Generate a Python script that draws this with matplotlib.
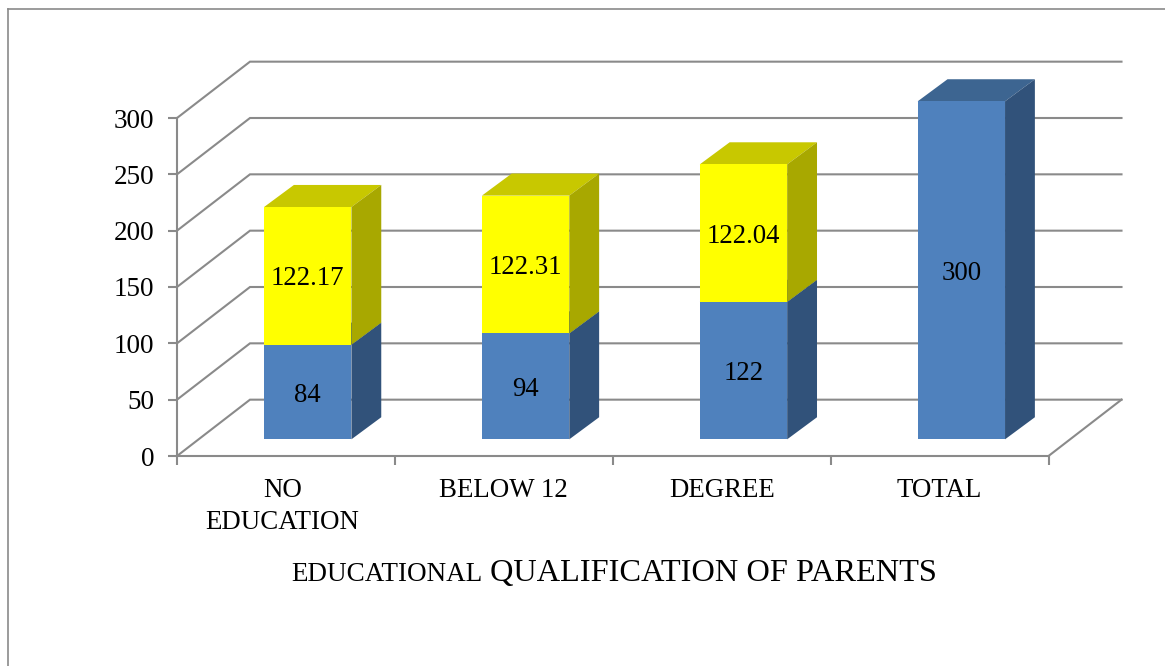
import matplotlib
matplotlib.use("Agg")
import matplotlib.pyplot as plt
from matplotlib.lines import Line2D
from matplotlib.patches import Polygon
from matplotlib.transforms import ScaledTranslation

categories = ["NO\nEDUCATION", "BELOW 12", "DEGREE", "TOTAL"]
blue_values = [84, 94, 122, 300]
yellow_values = [122.17, 122.31, 122.04, 0]
blue_labels = ["84", "94", "122", "300"]
yellow_labels = ["122.17", "122.31", "122.04", ""]
y_ticks = [0, 50, 100, 150, 200, 250, 300]

W, H = 1165, 666
GRAY = "#8a8a8a"
BLUE = ("#4f81bd", "#3d6591", "#31527a")
YELLOW = ("#ffff00", "#c8c800", "#a8a800")

# fake 3d geometry, all in data units
WALL_DX, WALL_DY = 0.335, 50
BAR_DX, BAR_DY = 0.137, 19.6
BAR_W = 0.401
BAR_BASE = 14.8
BAR_SHIFT = 0.6

plt.rcParams["font.family"] = ["Liberation Serif", "DejaVu Serif"]

fig = plt.figure(figsize=(W / 100, H / 100), dpi=100)
ax = fig.add_axes([177 / W, 1 - 456 / H, 871.5 / W, 338 / H])
ax.set_xlim(0, 4)
ax.set_ylim(0, 300)


def box(x, bottom, height, colors):
    left = x - BAR_W / 2
    right = x + BAR_W / 2
    top = bottom + height
    ax.bar(x, height, BAR_W, bottom=bottom, color=colors[0], zorder=5, clip_on=False)
    # top face
    ax.add_patch(Polygon([(left, top), (right, top), (right + BAR_DX, top + BAR_DY),
                          (left + BAR_DX, top + BAR_DY)], color=colors[1], lw=0, zorder=4, clip_on=False))
    # side face
    ax.add_patch(Polygon([(right, bottom), (right + BAR_DX, bottom + BAR_DY),
                          (right + BAR_DX, top + BAR_DY), (right, top)], color=colors[2], lw=0, zorder=4,
                         clip_on=False))


# back wall and side wall gridlines
for v in y_ticks:
    ax.plot([0, WALL_DX, 4 + WALL_DX], [v, v + WALL_DY, v + WALL_DY], color=GRAY, lw=1.5, zorder=1,
            clip_on=False, solid_joinstyle="miter")
ax.plot([4, 4 + WALL_DX], [0, WALL_DY], color=GRAY, lw=1.5, zorder=1, clip_on=False)

for i in range(len(categories)):
    x = i + BAR_SHIFT
    box(x, BAR_BASE, blue_values[i], BLUE)
    ax.text(x, BAR_BASE + blue_values[i] / 2, blue_labels[i], ha="center", va="center_baseline", fontsize=19.3,
            color="black", zorder=6)
    if yellow_values[i] > 0:
        box(x, BAR_BASE + blue_values[i], yellow_values[i], YELLOW)
        ax.text(x, BAR_BASE + blue_values[i] + yellow_values[i] / 2, yellow_labels[i], ha="center",
                va="center_baseline", fontsize=19.3, color="black", zorder=6)

for side in ("top", "right"):
    ax.spines[side].set_visible(False)
for side in ("left", "bottom"):
    ax.spines[side].set_color(GRAY)
    ax.spines[side].set_linewidth(1.5)

ax.set_yticks(y_ticks)
ax.tick_params(axis="y", length=6.5, width=1.5, color=GRAY, pad=10, labelsize=19.5)
for label in ax.get_yticklabels():
    label.set_verticalalignment("center_baseline")
ax.set_xticks(range(5))
ax.set_xticklabels([])
ax.tick_params(axis="x", which="major", length=6.5, width=1.5, color=GRAY)
ax.set_xticks([i + 0.5 for i in range(4)], minor=True)
ax.set_xticklabels(categories, minor=True, fontsize=19.4, linespacing=1.38)
ax.tick_params(axis="x", which="minor", length=0, pad=15.5)
first = ax.xaxis.get_minor_ticks()[0].label1
first.set_transform(first.get_transform() + ScaledTranslation(-3.5 / 100, 0, fig.dpi_scale_trans))

# axis title, small caps look made of two sizes
small = fig.text(291 / W, 1 - 581 / H, "EDUCATIONAL", fontsize=19.5, va="baseline", ha="left")
small_right = small.get_window_extent(fig.canvas.get_renderer()).x1
fig.text((small_right + 8) / W, 1 - 581 / H, "QUALIFICATION OF PARENTS", fontsize=23.3, va="baseline", ha="left")

# chart frame, only top and left survive in the crop
fig.add_artist(Line2D([8 / W, 8 / W], [0, 1 - 8.5 / H], color=GRAY, lw=1.2))
fig.add_artist(Line2D([8 / W, 1], [1 - 8.5 / H, 1 - 8.5 / H], color=GRAY, lw=1.2))

fig.savefig("out.png", dpi=100)
